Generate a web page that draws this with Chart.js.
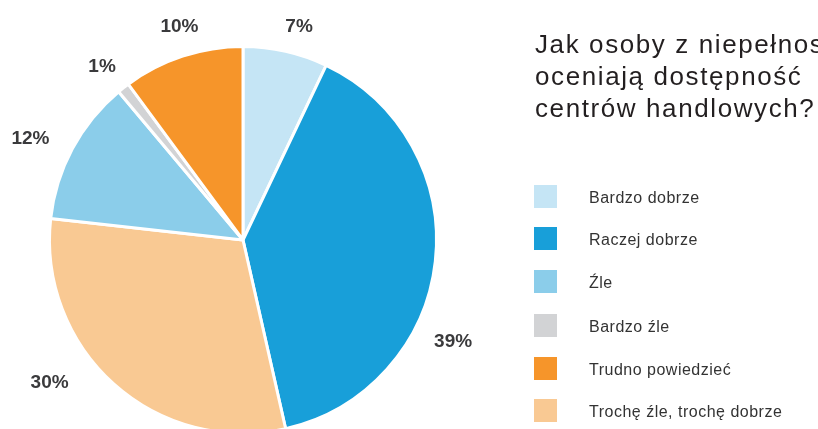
<!DOCTYPE html>
<html>
<head>
<meta charset="utf-8">
<script src="https://cdn.jsdelivr.net/npm/chart.js@4"></script>
<style>
  html, body { margin: 0; padding: 0; background: #fff; overflow: hidden; }
  #wrap { width: 818px; height: 429px; overflow: hidden; position: relative; }
  #box { width: 818px; height: 450px; position: absolute; left: 0; top: 0; }
</style>
</head>
<body>
<div id="wrap"><div id="box"><canvas id="pieChart"></canvas></div></div>
<script>
// slices in clockwise order from 12 o'clock
const labels = ['Bardzo dobrze', 'Raczej dobrze', 'Trochę źle, trochę dobrze', 'Źle', 'Bardzo źle', 'Trudno powiedzieć'];
const values = [7, 39, 30, 12, 1, 10];
const colors = ['#c5e5f5', '#189fd9', '#f9c993', '#8bcdea', '#d2d3d5', '#f6952a'];
// legend shows them in another order
const legendOrder = [0, 1, 3, 4, 5, 2];
const titleLines = ['Jak osoby z niepełnosprawnościami', 'oceniają dostępność', 'centrów handlowych?'];

// where the percent labels sit: angle shift (deg) and distance past the rim
const labelShift = [2, 19.5, 11.7, -2.7, -0.9, 1.6];
const labelPad = [27, 40, 47, 42, 30, 29];

const outsideLabels = {
  id: 'outsideLabels',
  afterDraw(chart) {
    const ctx = chart.ctx;
    const meta = chart.getDatasetMeta(0);
    ctx.save();
    ctx.font = 'bold 19px "Liberation Sans", Arial, sans-serif';
    ctx.fillStyle = '#3a3a3c';
    ctx.textAlign = 'center';
    ctx.textBaseline = 'middle';
    meta.data.forEach((arc, i) => {
      const mid = (arc.startAngle + arc.endAngle) / 2 + labelShift[i] * Math.PI / 180;
      const r = arc.outerRadius + labelPad[i];
      ctx.fillText(values[i] + '%', arc.x + Math.cos(mid) * r, arc.y + Math.sin(mid) * r);
    });
    ctx.restore();
  }
};

const sideLegend = {
  id: 'sideLegend',
  afterDraw(chart) {
    const ctx = chart.ctx;
    ctx.save();
    ctx.fillStyle = '#231f20';
    ctx.font = '26px "Liberation Sans", Arial, sans-serif';
    ctx.letterSpacing = '1.6px';
    ctx.textBaseline = 'alphabetic';
    titleLines.forEach((t, i) => {
      ctx.fillText(t, 535, 53 + i * 32);
    });
    const rows = [197, 239, 282, 326, 369, 411];
    ctx.font = '16px "Liberation Sans", Arial, sans-serif';
    ctx.letterSpacing = '0.5px';
    ctx.textBaseline = 'middle';
    legendOrder.forEach((k, i) => {
      ctx.fillStyle = colors[k];
      ctx.fillRect(534, rows[i] - 12, 23, 23);
      ctx.fillStyle = '#333333';
      ctx.fillText(labels[k], 589, rows[i] + 2);
    });
    ctx.restore();
  }
};

var ctx1 = document.getElementById('pieChart');
const pieChart = new Chart(ctx1, {
  type: 'pie',
  data: {
    labels: labels,
    datasets: [{
      data: values,
      backgroundColor: colors,
      borderColor: '#ffffff',
      borderWidth: 3,
      hoverOffset: 0
    }]
  },
  options: {
    responsive: true,
    maintainAspectRatio: false,
    animation: false,
    layout: {
      padding: { left: 48, right: 380, top: 45, bottom: 15 }
    },
    plugins: {
      legend: { display: false },
      tooltip: { enabled: false }
    }
  },
  plugins: [outsideLabels, sideLegend]
});
</script>
</body>
</html>
